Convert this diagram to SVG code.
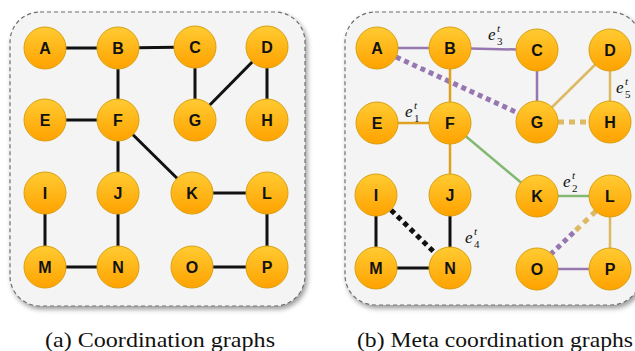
<svg xmlns="http://www.w3.org/2000/svg" width="635" height="351" viewBox="0 0 635 351">
<defs>
<linearGradient id="ng" x1="0" y1="0" x2="0" y2="1">
<stop offset="0" stop-color="#FFCB32"/>
<stop offset="1" stop-color="#FFA200"/>
</linearGradient>
<filter id="sh" x="-10%" y="-10%" width="125%" height="125%">
<feDropShadow dx="2" dy="3" stdDeviation="2.5" flood-color="#000" flood-opacity="0.4"/>
</filter>
</defs>
<style>
.panel{fill:#f4f4f4;stroke:#6e6e6e;stroke-width:1.2;stroke-dasharray:4 3;filter:url(#sh)}
.n circle{fill:url(#ng);stroke:#D9A010;stroke-width:1}
.n text{font-family:"Liberation Sans",Arial,sans-serif;font-weight:bold;font-size:16px;text-anchor:middle;fill:#111}
.k{stroke:#111;stroke-width:3;fill:none}
.pu{stroke:#9777B0;stroke-width:2.5;fill:none}
.or{stroke:#DFA11E;stroke-width:2.5;fill:none}
.tn{stroke:#DDBA62;stroke-width:2.5;fill:none}
.gr{stroke:#82B872;stroke-width:2.5;fill:none}
.pud{stroke:#9777B0;stroke-width:5;stroke-dasharray:5 4;fill:none}
.tnd{stroke:#DDBA62;stroke-width:5;stroke-dasharray:6 5;fill:none}
.kd{stroke:#111;stroke-width:5;stroke-dasharray:5 4;fill:none}
.m{font-family:"Liberation Serif","Times New Roman",serif;font-style:italic;font-size:17px;fill:#111}
.m .t{font-size:11px}
.m .d{font-size:11px;font-style:normal}
.cap{font-family:"Liberation Serif","Times New Roman",serif;font-size:22px;fill:#111}
</style>
<rect class="panel" x="10" y="12" width="295" height="294" rx="30"/>
<rect class="panel" x="345" y="12" width="296" height="293" rx="30"/>
<g id="connectors">
<line class="k" x1="45" y1="48" x2="118" y2="48"/>
<line class="k" x1="118" y1="48" x2="195" y2="47"/>
<line class="k" x1="118" y1="48" x2="118" y2="120"/>
<line class="k" x1="45" y1="120" x2="118" y2="120"/>
<line class="k" x1="118" y1="120" x2="118" y2="193"/>
<line class="k" x1="118" y1="120" x2="192" y2="193"/>
<line class="k" x1="195" y1="47" x2="195" y2="120"/>
<line class="k" x1="267" y1="47" x2="195" y2="120"/>
<line class="k" x1="267" y1="47" x2="267" y2="120"/>
<line class="k" x1="45" y1="193" x2="45" y2="267"/>
<line class="k" x1="118" y1="193" x2="118" y2="267"/>
<line class="k" x1="45" y1="267" x2="118" y2="267"/>
<line class="k" x1="192" y1="193" x2="267" y2="193"/>
<line class="k" x1="267" y1="193" x2="267" y2="267"/>
<line class="k" x1="192" y1="267" x2="267" y2="267"/>
<line class="pu" x1="377" y1="48" x2="450" y2="48"/>
<line class="pu" x1="450" y1="48" x2="537" y2="50"/>
<line class="pu" x1="537" y1="50" x2="537" y2="122"/>
<line class="pud" x1="396" y1="57" x2="518" y2="113"/>
<line class="or" x1="450" y1="48" x2="450" y2="123"/>
<line class="or" x1="377" y1="123" x2="450" y2="123"/>
<line class="or" x1="450" y1="123" x2="450" y2="195"/>
<line class="gr" x1="450" y1="123" x2="537" y2="196"/>
<line class="gr" x1="537" y1="196" x2="610" y2="196"/>
<line class="tn" x1="610" y1="50" x2="537" y2="122"/>
<line class="tn" x1="610" y1="50" x2="610" y2="122"/>
<line class="tnd" x1="558" y1="122" x2="590" y2="122"/>
<line class="tn" x1="610" y1="196" x2="610" y2="269"/>
<line class="tnd" x1="596" y1="211" x2="573.5" y2="232.5"/>
<line class="pud" x1="573.5" y1="232.5" x2="551" y2="254"/>
<line class="pu" x1="537" y1="269" x2="610" y2="269"/>
<line class="k" x1="376" y1="195" x2="376" y2="268"/>
<line class="k" x1="376" y1="268" x2="450" y2="268"/>
<line class="k" x1="450" y1="195" x2="450" y2="268"/>
<line class="kd" x1="391" y1="210" x2="436" y2="254"/>
</g>
<g id="labels">
<text class="m" x="405" y="117">e<tspan class="t" x="414" y="109">t</tspan><tspan class="d" x="414" y="122">1</tspan></text>
<text class="m" x="488" y="40">e<tspan class="t" x="497" y="32">t</tspan><tspan class="d" x="497" y="45">3</tspan></text>
<text class="m" x="616" y="93">e<tspan class="t" x="625" y="85">t</tspan><tspan class="d" x="625" y="98">5</tspan></text>
<text class="m" x="563" y="187">e<tspan class="t" x="572" y="179">t</tspan><tspan class="d" x="572" y="192">2</tspan></text>
<text class="m" x="465" y="243">e<tspan class="t" x="474" y="235">t</tspan><tspan class="d" x="474" y="248">4</tspan></text>
</g>
<g id="a-A" class="n"><circle cx="45" cy="48" r="21"/><text x="45" y="53.5">A</text></g>
<g id="a-B" class="n"><circle cx="118" cy="48" r="21"/><text x="118" y="53.5">B</text></g>
<g id="a-C" class="n"><circle cx="195" cy="47" r="21"/><text x="195" y="52.5">C</text></g>
<g id="a-D" class="n"><circle cx="267" cy="47" r="21"/><text x="267" y="52.5">D</text></g>
<g id="a-E" class="n"><circle cx="45" cy="120" r="21"/><text x="45" y="125.5">E</text></g>
<g id="a-F" class="n"><circle cx="118" cy="120" r="21"/><text x="118" y="125.5">F</text></g>
<g id="a-G" class="n"><circle cx="195" cy="120" r="21"/><text x="195" y="125.5">G</text></g>
<g id="a-H" class="n"><circle cx="267" cy="120" r="21"/><text x="267" y="125.5">H</text></g>
<g id="a-I" class="n"><circle cx="45" cy="193" r="21"/><text x="45" y="198.5">I</text></g>
<g id="a-J" class="n"><circle cx="118" cy="193" r="21"/><text x="118" y="198.5">J</text></g>
<g id="a-K" class="n"><circle cx="192" cy="193" r="21"/><text x="192" y="198.5">K</text></g>
<g id="a-L" class="n"><circle cx="267" cy="193" r="21"/><text x="267" y="198.5">L</text></g>
<g id="a-M" class="n"><circle cx="45" cy="267" r="21"/><text x="45" y="272.5">M</text></g>
<g id="a-N" class="n"><circle cx="118" cy="267" r="21"/><text x="118" y="272.5">N</text></g>
<g id="a-O" class="n"><circle cx="192" cy="267" r="21"/><text x="192" y="272.5">O</text></g>
<g id="a-P" class="n"><circle cx="267" cy="267" r="21"/><text x="267" y="272.5">P</text></g>
<g id="b-A" class="n"><circle cx="377" cy="48" r="21"/><text x="377" y="53.5">A</text></g>
<g id="b-B" class="n"><circle cx="450" cy="48" r="21"/><text x="450" y="53.5">B</text></g>
<g id="b-C" class="n"><circle cx="537" cy="50" r="21"/><text x="537" y="55.5">C</text></g>
<g id="b-D" class="n"><circle cx="610" cy="50" r="21"/><text x="610" y="55.5">D</text></g>
<g id="b-E" class="n"><circle cx="377" cy="123" r="21"/><text x="377" y="128.5">E</text></g>
<g id="b-F" class="n"><circle cx="450" cy="123" r="21"/><text x="450" y="128.5">F</text></g>
<g id="b-G" class="n"><circle cx="537" cy="122" r="21"/><text x="537" y="127.5">G</text></g>
<g id="b-H" class="n"><circle cx="610" cy="122" r="21"/><text x="610" y="127.5">H</text></g>
<g id="b-I" class="n"><circle cx="376" cy="195" r="21"/><text x="376" y="200.5">I</text></g>
<g id="b-J" class="n"><circle cx="450" cy="195" r="21"/><text x="450" y="200.5">J</text></g>
<g id="b-K" class="n"><circle cx="537" cy="196" r="21"/><text x="537" y="201.5">K</text></g>
<g id="b-L" class="n"><circle cx="610" cy="196" r="21"/><text x="610" y="201.5">L</text></g>
<g id="b-M" class="n"><circle cx="376" cy="268" r="21"/><text x="376" y="273.5">M</text></g>
<g id="b-N" class="n"><circle cx="450" cy="268" r="21"/><text x="450" y="273.5">N</text></g>
<g id="b-O" class="n"><circle cx="537" cy="269" r="21"/><text x="537" y="274.5">O</text></g>
<g id="b-P" class="n"><circle cx="610" cy="269" r="21"/><text x="610" y="274.5">P</text></g>
<text class="cap" x="45" y="347" textLength="230" lengthAdjust="spacingAndGlyphs">(a) Coordination graphs</text>
<text class="cap" x="357" y="347" textLength="276" lengthAdjust="spacingAndGlyphs">(b) Meta coordination graphs</text>
</svg>
